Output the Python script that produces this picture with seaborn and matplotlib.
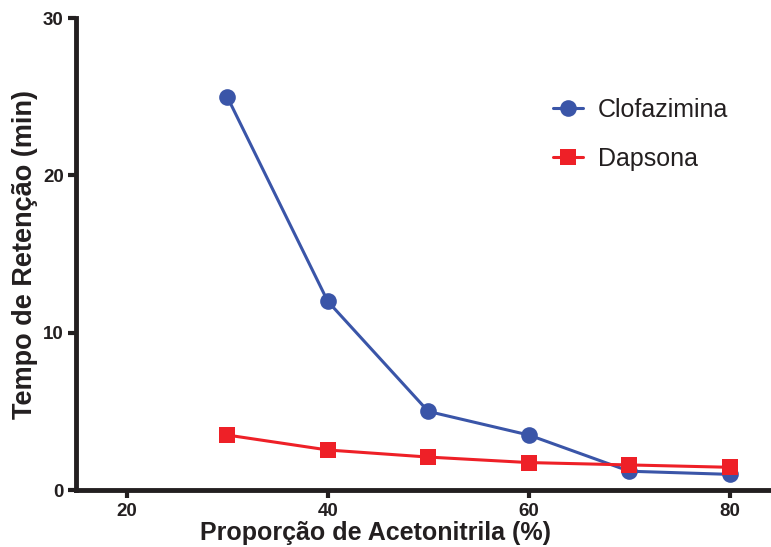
import matplotlib
matplotlib.use("Agg")
import pandas as pd
import matplotlib.pyplot as plt
import seaborn as sns

# data
acetonitrila = [30, 40, 50, 60, 70, 80]
clofazimina = [25.0, 12.0, 5.0, 3.5, 1.2, 1.0]
dapsona = [3.5, 2.55, 2.1, 1.75, 1.6, 1.45]
x_ticks = [20, 40, 60, 80]
y_ticks = [0, 10, 20, 30]

df = pd.DataFrame({
    "x": acetonitrila * 2,
    "y": clofazimina + dapsona,
    "comp": ["Clofazimina"] * 6 + ["Dapsona"] * 6,
})

sns.set_style("ticks")
plt.rcParams["font.family"] = ["Liberation Sans", "DejaVu Sans"]

fig = plt.figure(figsize=(7.71, 5.47), dpi=100)
ax = fig.add_axes([0.099, 0.104, 0.900, 0.863])

sns.lineplot(data=df, x="x", y="y", hue="comp", style="comp",
             palette={"Clofazimina": "#3a55a8", "Dapsona": "#ee2027"},
             markers={"Clofazimina": "o", "Dapsona": "s"}, dashes=False,
             markersize=12, linewidth=2.2, markeredgewidth=0, ax=ax)

ax.set_xlim(15, 84)
ax.set_ylim(0, 30)
ax.set_xticks(x_ticks)
ax.set_yticks(y_ticks)
sns.despine(ax=ax)
for s in ["left", "bottom"]:
    ax.spines[s].set_linewidth(3.5)
    ax.spines[s].set_color("#231f20")
ax.tick_params(width=3, length=6, color="#231f20", labelsize=13.5, pad=3)
for lab in ax.get_xticklabels() + ax.get_yticklabels():
    lab.set_fontweight("bold")
    lab.set_color("#231f20")

ax.set_xlabel("Proporção de Acetonitrila (%)", fontsize=18, fontweight="bold", color="#231f20", labelpad=3)
ax.xaxis.set_label_coords(0.431, -0.065)
ax.set_ylabel("Tempo de Retenção (min)", fontsize=19.5, fontweight="bold", color="#231f20", labelpad=4)

leg = ax.legend(loc="upper right", bbox_to_anchor=(0.972, 0.878), frameon=False,
                fontsize=18, handlelength=1.2, handletextpad=0.6, labelspacing=1.0)
for t in leg.get_texts():
    t.set_color("#231f20")

fig.savefig("out.png", dpi=100)
